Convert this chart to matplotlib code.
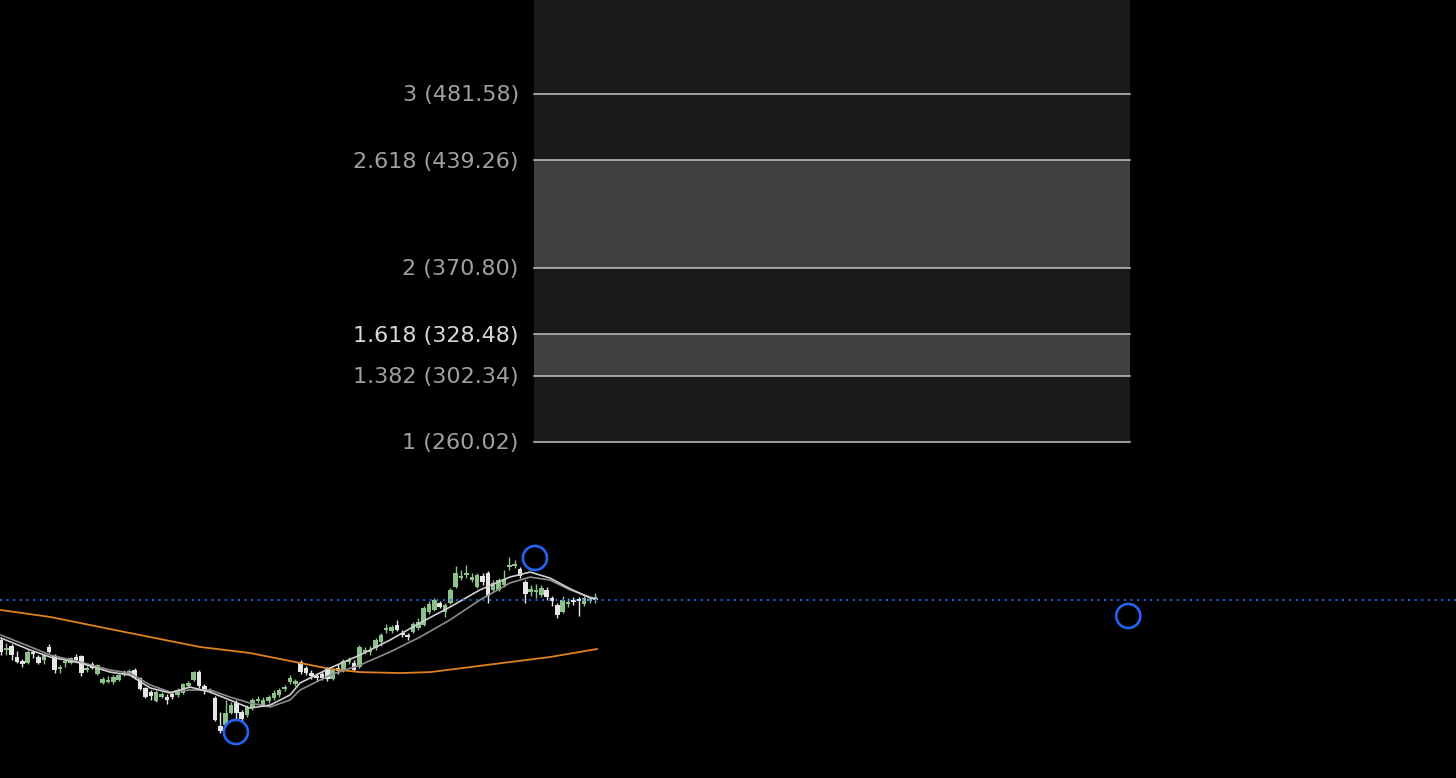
import numpy as np
import matplotlib
matplotlib.use("Agg")
import matplotlib.pyplot as plt

# daily candles (price units) left to right
opens = [133.9, 127.6, 130.3, 123.1, 120.6, 119.3, 125.7, 123.1, 121.2, 129.7,
         123.8, 115.5, 119.3, 119.3, 123.1, 123.8, 114.8, 118.7, 112.3, 106.6,
         107.2, 107.2, 108.5, 112.3, 112.3, 114.8, 109.7, 103.4, 100.8, 95.1,
         97.6, 97.6, 99.5, 98.9, 100.2, 104.7, 108.5, 113.5, 104.7, 100.8,
         96.9, 79.2, 79.8, 87.5, 93.8, 88.1, 86.2, 90.6, 95.1, 92.5,
         95.1, 96.9, 98.9, 102.7, 107.2, 105.9, 119.9, 116.1, 112.9, 111.0,
         112.3, 115.5, 109.1, 116.1, 114.8, 119.9, 119.3, 116.7, 126.3, 126.3,
         128.9, 132.6, 140.3, 139.7, 143.5, 138.4, 137.1, 139.0, 141.6, 143.5,
         151.8, 153.0, 157.5, 151.8, 157.5, 167.7, 173.4, 175.3, 172.1, 167.7,
         174.7, 176.6, 165.8, 165.8, 169.0, 180.4, 181.1, 179.1, 170.9, 164.5,
         164.5, 162.6, 165.8, 160.7, 156.2, 151.8, 156.9, 159.4, 160.0, 156.9,
         158.8, 159.4]
closes = [126.3, 128.9, 124.4, 119.9, 118.7, 126.3, 125.0, 119.3, 124.4, 126.3,
          114.8, 116.7, 120.6, 122.5, 121.2, 112.9, 116.1, 116.1, 118.0, 109.1,
          108.5, 110.4, 111.6, 113.5, 114.2, 109.7, 102.7, 97.6, 98.2, 100.8,
          99.5, 95.7, 97.6, 102.1, 105.9, 106.6, 113.5, 104.7, 102.1, 102.1,
          83.0, 76.0, 87.5, 92.5, 87.5, 83.6, 91.3, 95.7, 96.3, 95.7,
          97.6, 100.2, 102.1, 104.0, 109.7, 107.8, 113.5, 112.9, 111.0, 109.7,
          109.7, 109.1, 115.5, 114.2, 120.6, 121.2, 114.8, 129.7, 127.6, 127.6,
          133.9, 137.1, 141.6, 142.2, 140.3, 137.1, 135.8, 144.1, 145.4, 154.3,
          156.9, 159.4, 155.0, 156.2, 165.8, 176.6, 174.7, 175.9, 174.0, 175.3,
          170.9, 161.9, 170.2, 172.1, 172.8, 181.7, 182.4, 174.7, 163.2, 166.4,
          165.8, 167.0, 161.3, 158.8, 149.9, 159.4, 158.1, 158.1, 158.8, 160.7,
          159.4, 161.3]
highs = [135.2, 131.9, 131.3, 127.0, 121.8, 127.6, 127.6, 124.4, 125.0, 131.3,
         125.0, 118.0, 121.2, 123.1, 125.0, 124.4, 117.4, 119.9, 118.7, 110.4,
         111.0, 111.6, 112.3, 114.8, 115.5, 116.1, 110.4, 104.0, 102.1, 102.1,
         100.8, 99.5, 100.8, 103.4, 106.6, 107.8, 114.2, 114.8, 105.9, 103.4,
         98.2, 88.1, 95.7, 94.4, 95.7, 89.4, 92.5, 96.9, 98.2, 97.6,
         98.9, 102.1, 103.4, 105.3, 111.6, 109.1, 121.2, 117.4, 114.8, 112.9,
         114.2, 116.7, 116.1, 118.7, 121.8, 123.1, 121.2, 130.7, 129.7, 130.3,
         135.2, 138.4, 144.1, 143.5, 146.7, 140.3, 138.4, 145.4, 147.9, 155.6,
         158.8, 160.7, 158.8, 157.5, 167.0, 181.1, 178.5, 181.7, 176.6, 176.6,
         176.6, 177.8, 172.1, 173.4, 178.5, 186.8, 184.9, 180.4, 172.1, 169.0,
         169.6, 169.0, 167.7, 162.0, 157.5, 162.0, 160.7, 161.3, 161.3, 162.0,
         161.3, 163.9]
lows = [124.4, 124.4, 121.2, 119.3, 116.7, 118.7, 122.5, 118.7, 118.7, 125.7,
        112.9, 112.9, 116.7, 118.7, 120.6, 111.0, 113.5, 115.5, 111.6, 105.9,
        106.6, 105.9, 107.8, 111.0, 111.6, 109.1, 102.1, 96.9, 95.7, 94.4,
        96.9, 93.2, 96.3, 97.6, 99.5, 103.4, 107.8, 103.4, 99.5, 100.2,
        82.4, 74.7, 79.2, 86.8, 83.0, 82.4, 84.9, 89.4, 93.8, 91.9,
        93.8, 95.7, 97.6, 101.5, 105.9, 104.7, 112.3, 111.6, 109.1, 107.8,
        108.5, 107.8, 108.5, 112.3, 113.5, 118.7, 114.2, 116.1, 125.0, 124.4,
        127.6, 130.3, 138.4, 138.4, 139.7, 135.8, 133.9, 138.4, 140.3, 142.8,
        150.5, 152.4, 154.3, 148.6, 156.9, 167.0, 172.1, 173.4, 170.9, 167.0,
        169.0, 157.5, 164.5, 165.1, 167.7, 178.5, 179.8, 173.4, 157.5, 162.0,
        160.7, 161.3, 159.4, 155.6, 147.9, 151.1, 155.0, 156.2, 149.2, 155.6,
        157.5, 157.5]

# moving averages, sampled along the bars
ma_bars = [0, 5.4, 9.2, 14.8, 20.4, 24.1, 27.9, 31.6, 35.3, 39.1, 42.8, 46.5, 50.3,
           54.0, 55.9, 61.5, 67.1, 72.7, 78.3, 83.9, 89.5, 95.1, 98.9, 102.6, 106.4,
           110.1, 111.4]
ma_fast = [135.2, 127.6, 123.1, 119.3, 113.5, 111.6, 103.4, 100.2, 104.0, 100.8, 95.7,
           90.6, 92.5, 98.9, 106.6, 116.1, 124.4, 133.9, 144.8, 154.9, 165.8, 174.0,
           177.2, 173.4, 166.5, 160.7, 160.0]
ma_slow = [137.1, 129.7, 124.4, 119.9, 114.8, 112.9, 105.3, 100.8, 102.1, 102.1, 97.6,
           93.8, 91.3, 95.7, 102.1, 111.6, 118.0, 126.3, 135.8, 146.7, 159.4, 170.2,
           174.0, 172.1, 165.8, 161.3, 160.0]
ma_long_bars = [0, 9.2, 18.5, 27.9, 37.2, 46.5, 54.0, 61.5, 67.1, 74.6, 80.2, 87.7, 95.1,
                102.6, 111.4]
ma_long = [153.0, 148.6, 142.2, 135.8, 129.5, 125.7, 120.6, 115.5, 113.5, 112.9, 113.5,
           116.7, 119.9, 123.1, 128.2]

# fib extension pivots (bar, price)
piv_bars = [43.9, 99.8, 210.7]
piv_price = [75.37, 186.15, 149.24]
fib_ratios = [1, 1.382, 1.618, 2, 2.618, 3, 3.618]
last_price = 159.41

BG = "#000000"
UP = "#8cc18c"
DOWN = "#e6e6e6"
BLUE = "#2563f5"

fig = plt.figure(figsize=(14.56, 7.78), dpi=100, facecolor=BG)
ax = fig.add_axes([0, 0, 1, 1])
ax.set_facecolor(BG)
ax.set_xlim(-0.19, 271.96)
ax.set_ylim(46.08, 541.42)
ax.axis("off")

# fib extension box
move = piv_price[1] - piv_price[0]
levels = [piv_price[2] + r * move for r in fib_ratios]
x0, x1 = piv_bars[1] - 0.15, piv_bars[2] + 0.35
band_cols = ["#1a1a1a", "#404040", "#1a1a1a", "#404040", "#1a1a1a", "#1a1a1a"]
for k in range(len(levels) - 1):
    ax.fill_between([x0, x1], levels[k], levels[k + 1], color=band_cols[k], lw=0, zorder=1)
for r, lv in zip(fib_ratios[:-1], levels[:-1]):
    ax.plot([x0, x1], [lv, lv], color="#c4c4c4", lw=1.1, zorder=2)
    txt = "%g (%.2f)" % (r, lv)
    col = "#d8d8d8" if r == 1.618 else "#a0a0a0"
    ax.annotate(txt, xy=(x0, lv), xytext=(-11, -1), textcoords="offset points",
                ha="right", va="center", color=col, fontsize=16, family="DejaVu Sans")

# candles
idx = np.arange(len(opens))
o = np.array(opens); c = np.array(closes)
colors = [UP if cc >= oo else DOWN for oo, cc in zip(o, c)]
ax.vlines(idx, lows, highs, colors=colors, lw=1, zorder=3)
body = np.maximum(np.abs(c - o), 1.0)
ax.bar(idx, body, bottom=np.minimum(o, c), width=0.85, color=colors, lw=0, zorder=4)

# moving averages
ax.plot(ma_long_bars, ma_long, color="#e0801f", lw=1.3, zorder=5)
ax.plot(ma_bars, ma_slow, color="#8c8c8c", lw=1.2, zorder=5)
ax.plot(ma_bars, ma_fast, color="#cfcfcf", lw=1.2, zorder=5)

# last price line
ax.axhline(last_price, color=BLUE, lw=1.4, dashes=(1, 2.4), zorder=6)

# pivot markers
ax.scatter(piv_bars, piv_price, s=300, facecolors="none", edgecolors=BLUE,
           linewidths=1.9, zorder=7)

fig.savefig("out.png", dpi=100, facecolor=BG)
